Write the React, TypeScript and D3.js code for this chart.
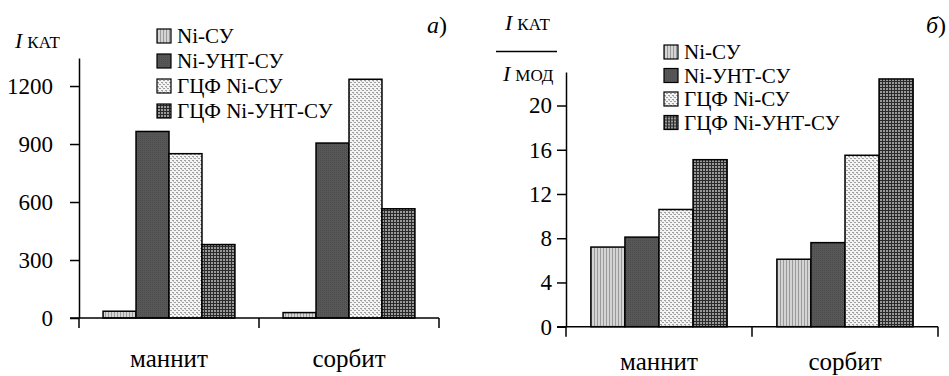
import React, { useEffect, useRef } from 'react';
import * as d3 from 'd3';

// categories and series
const categories = ['маннит', 'сорбит'];
const seriesNames = ['Ni-СУ', 'Ni-УНТ-СУ', 'ГЦФ Ni-СУ', 'ГЦФ Ni-УНТ-СУ'];

// panel а) : I кат
const katNiSu = [35, 28];
const katNiUntSu = [965, 905];
const katGcfNiSu = [850, 1235];
const katGcfNiUntSu = [380, 565];
const katTicks = [0, 300, 600, 900, 1200];

// panel б) : I кат / I мод
const ratioNiSu = [7.2, 6.1];
const ratioNiUntSu = [8.1, 7.6];
const ratioGcfNiSu = [10.6, 15.5];
const ratioGcfNiUntSu = [15.1, 22.4];
const ratioTicks = [0, 4, 8, 12, 16, 20];

const fills = ['url(#pNiSu)', 'url(#pNiUnt)', 'url(#pGcfNiSu)', 'url(#pGcfNiUnt)'];
const FONT = 'Liberation Serif';

function drawPanel(g, cfg) {
  const { series, ticks, yMax, x0, x1, yBottom, yTop, tickPad, legX, legY, legStep, catY } = cfg;

  const y = d3.scaleLinear().domain([0, yMax]).range([yBottom, yTop]);
  const xc = d3.scaleBand().domain(categories).range([x0, x1]).padding(0);
  const xs = d3.scaleBand().domain(seriesNames).range([0, xc.bandwidth()])
    .paddingInner(0).paddingOuter(0.73);

  // bars
  seriesNames.forEach((name, si) => {
    g.selectAll('.bar' + si).data(series[si]).join('rect')
      .attr('class', 'bar' + si)
      .attr('x', (d, i) => xc(categories[i]) + xs(name))
      .attr('y', d => y(d))
      .attr('width', xs.bandwidth())
      .attr('height', d => y(0) - y(d))
      .attr('fill', fills[si])
      .attr('stroke', '#000')
      .attr('stroke-width', 1.5);
  });

  // y axis
  const ax = g.append('g').attr('transform', `translate(${x0},0)`)
    .call(d3.axisLeft(y).tickValues(ticks).tickFormat(d3.format('d'))
      .tickSize(9).tickSizeOuter(0).tickPadding(tickPad));
  ax.attr('font-family', FONT).attr('font-size', 23);
  ax.select('.domain').attr('stroke', '#000').attr('stroke-width', 1.5);
  ax.selectAll('.tick line').attr('stroke', '#000').attr('stroke-width', 1.5);
  ax.selectAll('.tick text').attr('fill', '#000');

  // x axis
  g.append('line').attr('x1', x0 - 9).attr('x2', x1).attr('y1', y(0)).attr('y2', y(0))
    .attr('stroke', '#000').attr('stroke-width', 1.5);
  const bounds = [x0].concat(categories.map(c => xc(c) + xc.bandwidth()));
  g.selectAll('.xtick').data(bounds).join('line').attr('class', 'xtick')
    .attr('x1', d => d).attr('x2', d => d).attr('y1', y(0)).attr('y2', y(0) + 10)
    .attr('stroke', '#000').attr('stroke-width', 1.5);
  g.selectAll('.xlab').data(categories).join('text').attr('class', 'xlab')
    .attr('x', d => xc(d) + xc.bandwidth() / 2).attr('y', catY)
    .attr('text-anchor', 'middle').attr('font-family', FONT).attr('font-size', 25)
    .text(d => d);

  // legend
  const leg = g.selectAll('.leg').data(seriesNames).join('g').attr('class', 'leg')
    .attr('transform', (d, i) => `translate(${legX},${legY + i * legStep})`);
  leg.append('rect').attr('x', 0).attr('y', -7).attr('width', 14).attr('height', 14)
    .attr('fill', (d, i) => fills[i]).attr('stroke', '#000').attr('stroke-width', 1.2);
  leg.append('text').attr('x', 20).attr('y', 7).attr('font-family', FONT).attr('font-size', 21)
    .text(d => d);
}

function label(g, x, y, sub) {
  const t = g.append('text').attr('x', x).attr('y', y).attr('font-family', FONT);
  t.append('tspan').attr('font-size', 22).attr('font-style', 'italic').text('I');
  t.append('tspan').attr('font-size', 17).attr('dx', 5).text(sub);
}

function App() {
  const ref = useRef(null);

  useEffect(() => {
    const svg = d3.select(ref.current);
    svg.selectAll('.panel').remove();

    const a = svg.append('g').attr('class', 'panel');
    drawPanel(a, {
      series: [katNiSu, katNiUntSu, katGcfNiSu, katGcfNiUntSu],
      ticks: katTicks, yMax: 1345, x0: 79, x1: 439, yBottom: 318, yTop: 58,
      tickPad: 17, legX: 157, legY: 36, legStep: 25, catY: 367
    });
    label(a, 15, 48, 'КАТ');
    const ta = a.append('text').attr('x', 427).attr('y', 33).attr('font-family', FONT).attr('font-size', 24);
    ta.append('tspan').attr('font-style', 'italic').text('а');
    ta.append('tspan').text(')');

    const b = svg.append('g').attr('class', 'panel');
    drawPanel(b, {
      series: [ratioNiSu, ratioNiUntSu, ratioGcfNiSu, ratioGcfNiUntSu],
      ticks: ratioTicks, yMax: 23.03, x0: 566, x1: 938, yBottom: 326.7, yTop: 72,
      tickPad: 5, legX: 664, legY: 52, legStep: 23.5, catY: 370
    });
    label(b, 505, 30, 'КАТ');
    b.append('line').attr('x1', 496).attr('x2', 557).attr('y1', 51.5).attr('y2', 51.5)
      .attr('stroke', '#000').attr('stroke-width', 1.3);
    label(b, 503, 81, 'МОД');
    const tb = b.append('text').attr('x', 926).attr('y', 33).attr('font-family', FONT).attr('font-size', 24);
    tb.append('tspan').attr('font-style', 'italic').text('б');
    tb.append('tspan').text(')');
  }, []);

  return (
    <svg ref={ref} width={949} height={376}
      style={{ position: 'absolute', left: 0, top: 0, background: '#fff' }}>
      <defs>
        <pattern id="pNiSu" width="3" height="3" patternUnits="userSpaceOnUse">
          <rect width="3" height="3" fill="#d4d4d4" />
          <rect width="1" height="3" fill="#9a9a9a" />
        </pattern>
        <pattern id="pNiUnt" width="2" height="2" patternUnits="userSpaceOnUse">
          <rect width="2" height="2" fill="#575757" />
          <rect width="1" height="1" fill="#4c4c4c" />
        </pattern>
        <pattern id="pGcfNiSu" width="4" height="4" patternUnits="userSpaceOnUse">
          <rect width="4" height="4" fill="#f4f4f4" />
          <rect x="0" y="0" width="2" height="1" fill="#a0a0a0" />
          <rect x="2" y="2" width="2" height="1" fill="#a0a0a0" />
          <rect x="1" y="1" width="1" height="1" fill="#c0c0c0" />
        </pattern>
        <pattern id="pGcfNiUnt" width="3" height="3" patternUnits="userSpaceOnUse">
          <rect width="3" height="3" fill="#2a2a2a" />
          <rect x="1" y="1" width="2" height="2" fill="#9a9a9a" />
        </pattern>
      </defs>
    </svg>
  );
}

export default App;
